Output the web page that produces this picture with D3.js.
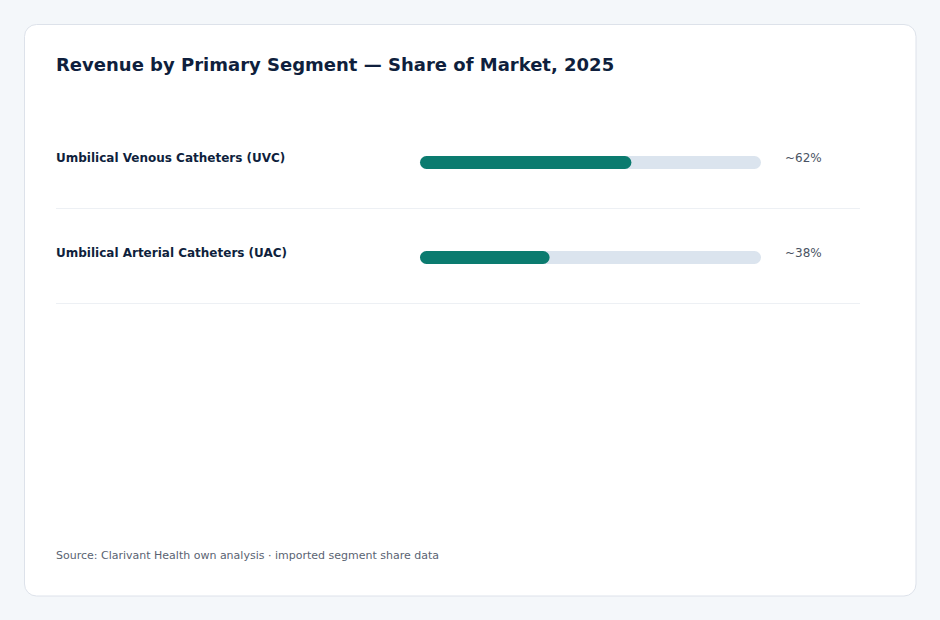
<!DOCTYPE html>
<html>
<head>
<meta charset="utf-8">
<script src="https://cdn.jsdelivr.net/npm/d3@7"></script>
<style>
  html, body { margin: 0; padding: 0; background: #f4f7fa; }
  svg { display: block; font-family: "DejaVu Sans", sans-serif; }
</style>
</head>
<body>
<div id="chart"></div>
<script>
// segment shares
const segments = ["Umbilical Venous Catheters (UVC)", "Umbilical Arterial Catheters (UAC)"];
const shares = [62, 38];
const shareLabels = ["~62%", "~38%"];

const width = 940, height = 620;

const svg = d3.select("#chart")
  .append("svg")
    .attr("width", width)
    .attr("height", height);

// card
svg.append("rect")
  .attr("x", 24.5).attr("y", 24.5)
  .attr("width", 891.5).attr("height", 571.5)
  .attr("rx", 12)
  .attr("fill", "#ffffff")
  .attr("stroke", "#dde2ea");

svg.append("text")
  .attr("x", 56).attr("y", 71)
  .attr("font-size", 18).attr("font-weight", "bold")
  .attr("fill", "#0f1f3d")
  .text("Revenue by Primary Segment \u2014 Share of Market, 2025");

// rows
const y = d3.scaleBand()
  .domain(segments)
  .range([113, 303]);

const x = d3.scaleLinear()
  .domain([0, 100])
  .range([420, 761]);

const rows = svg.selectAll(".row")
  .data(segments.map((s, i) => ({ name: s, share: shares[i], label: shareLabels[i] })))
  .join("g")
    .attr("class", "row")
    .attr("transform", d => `translate(0,${y(d.name)})`);

rows.append("text")
  .attr("x", 56).attr("y", 49)
  .attr("font-size", 12).attr("font-weight", "bold")
  .attr("fill", "#0f1f3d")
  .text(d => d.name);

rows.append("rect") // track
  .attr("x", x(0)).attr("y", 43)
  .attr("width", x(100) - x(0)).attr("height", 13)
  .attr("rx", 6.5)
  .attr("fill", "#dbe4ee");

rows.append("rect")
  .attr("x", x(0)).attr("y", 43)
  .attr("width", d => x(d.share) - x(0)).attr("height", 13)
  .attr("rx", 6.5)
  .attr("fill", "#0b7b6f");

rows.append("text")
  .attr("x", 785).attr("y", 49)
  .attr("font-size", 12)
  .attr("fill", "#4a5363")
  .text(d => d.label);

rows.append("line") // separator
  .attr("x1", 56).attr("x2", 860)
  .attr("y1", y.bandwidth() + 0.5).attr("y2", y.bandwidth() + 0.5)
  .attr("stroke", "#edf0f4");

svg.append("text")
  .attr("x", 56).attr("y", 559)
  .attr("font-size", 11)
  .attr("fill", "#5a6372")
  .text("Source: Clarivant Health own analysis \u00b7 imported segment share data");
</script>
</body>
</html>
